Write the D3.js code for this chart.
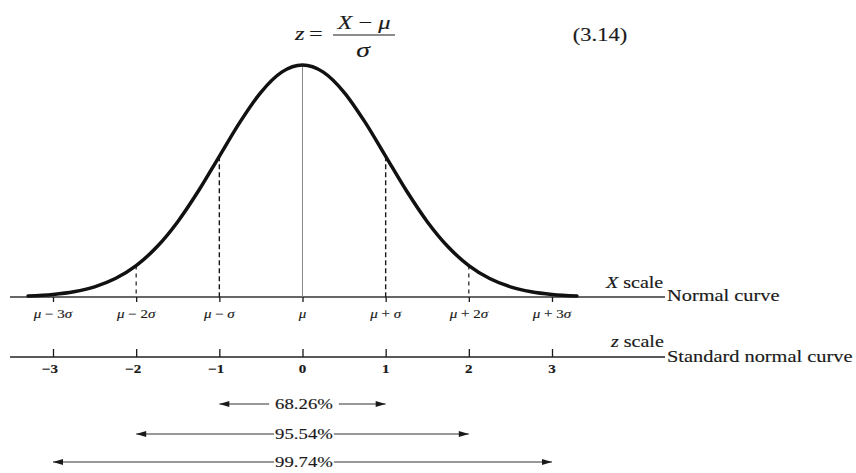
<!DOCTYPE html>
<html>
<head>
<meta charset="utf-8">
<script src="https://cdn.jsdelivr.net/npm/d3@7/dist/d3.min.js"></script>
<style>
  html, body { margin: 0; padding: 0; background: #fff; }
  svg { display: block; }
  text { font-family: "Liberation Serif", "Times New Roman", serif; fill: #1a1a1a; }
</style>
</head>
<body>
<svg id="chart" width="856" height="473"></svg>
<script>
// Standard-score positions along the axes (in units of sigma)
const sigmaSteps = [-3, -2, -1, 0, 1, 2, 3];
// X-scale tick labels, as [mu part, operator, sigma part]
const xLabels = [
  ["μ", "−", "3σ"], ["μ", "−", "2σ"], ["μ", "−", "σ"], ["μ", "", ""],
  ["μ", "+", "σ"], ["μ", "+", "2σ"], ["μ", "+", "3σ"]
];
// z-scale tick labels
const zLabels = ["−3", "−2", "−1", "0", "1", "2", "3"];
// Sampled curve: z position and relative height of the bell (peak = 1)
const curveZ = [-3.3, -3, -2.75, -2.5, -2.25, -2, -1.75, -1.5, -1.25, -1, -0.75, -0.5, -0.25, 0,
                0.25, 0.5, 0.75, 1, 1.25, 1.5, 1.75, 2, 2.25, 2.5, 2.75, 3, 3.3];
const curveH = [0.0043, 0.0111, 0.0228, 0.0439, 0.0796, 0.1353, 0.2163, 0.3247, 0.4578, 0.6065, 0.7548, 0.8825, 0.9692, 1,
                0.9692, 0.8825, 0.7548, 0.6065, 0.4578, 0.3247, 0.2163, 0.1353, 0.0796, 0.0439, 0.0228, 0.0111, 0.0043];
// Area within k standard deviations of the mean
const rangeK = [1, 2, 3];
const rangePct = ["68.26%", "95.54%", "99.74%"];

const svg = d3.select("#chart");
const STRETCH = 1.25;   // wide-set type
const ink = "#1a1a1a";

const x = d3.scaleLinear().domain([-3, 3]).range([53, 552]);
const y = d3.scaleLinear().domain([0, 1]).range([297, 65]);

const axisX0 = 10, axisX1 = 665;
const xAxisY = y(0);
const zAxisY = 357;

function stretchedText(g, px, py, size, anchor) {
  return g.append("text")
    .attr("transform", `translate(${px},${py}) scale(${STRETCH},1)`)
    .attr("font-size", size)
    .attr("text-anchor", anchor || "start")
    .attr("stroke", ink).attr("stroke-width", 0.15);
}

// ---- equation z = (X − μ)/σ and its number
const eq = svg.append("g");
stretchedText(eq, 295, 40, 19.5).append("tspan").attr("font-style", "italic").text("z");
stretchedText(eq, 309, 40, 19.5).text("=");
const num = stretchedText(eq, 364, 29, 19.5, "middle");
num.append("tspan").attr("font-style", "italic").text("X");
num.append("tspan").text(" − ");
num.append("tspan").attr("font-style", "italic").text("μ");
eq.append("line").attr("x1", 333).attr("x2", 395).attr("y1", 35).attr("y2", 35)
  .attr("stroke", ink).attr("stroke-width", 1.2);
stretchedText(eq, 363, 57, 22, "middle").attr("font-style", "italic").text("σ");
stretchedText(eq, 600, 41, 18, "middle").text("(3.14)");

// ---- X scale axis
svg.append("line").attr("x1", axisX0).attr("x2", axisX1)
  .attr("y1", xAxisY).attr("y2", xAxisY)
  .attr("stroke", "#333").attr("stroke-width", 1.3);

const xAxis = d3.axisBottom(x).tickValues(sigmaSteps).tickSize(5).tickFormat("");
const gx = svg.append("g").attr("transform", `translate(0,${xAxisY})`).call(xAxis);
gx.select(".domain").remove();
gx.selectAll(".tick line").attr("stroke", ink).attr("stroke-width", 1.3);

// verticals from the curve down to the axis
const hAt = z => curveH[curveZ.indexOf(z)];
svg.append("line")
  .attr("x1", x(0)).attr("x2", x(0)).attr("y1", y(1)).attr("y2", xAxisY)
  .attr("stroke", "#888").attr("stroke-width", 1);
svg.selectAll("line.drop")
  .data(sigmaSteps.filter(d => d !== 0 && Math.abs(d) < 3))
  .join("line").attr("class", "drop")
  .attr("x1", d => x(d)).attr("x2", d => x(d))
  .attr("y1", d => y(hAt(d))).attr("y2", xAxisY)
  .attr("stroke", ink).attr("stroke-width", d => Math.abs(d) === 1 ? 1.4 : 1.2)
  .attr("stroke-dasharray", d => Math.abs(d) === 1 ? "5,3" : "4,4");

// the normal curve
const line = d3.line().x(d => x(d[0])).y(d => y(d[1])).curve(d3.curveMonotoneX);
svg.append("path")
  .datum(d3.zip(curveZ, curveH))
  .attr("d", line)
  .attr("fill", "none").attr("stroke", "#111").attr("stroke-width", 3.5)
  .attr("stroke-linecap", "round");

// X tick labels
const gxl = svg.append("g");
sigmaSteps.forEach((d, i) => {
  const [m, op, s] = xLabels[i];
  const t = stretchedText(gxl, x(d), 318, 12, "middle");
  t.append("tspan").attr("font-style", "italic").text(m);
  if (op) {
    t.append("tspan").text(" " + op + " ");
    const digits = s.replace("σ", "");
    if (digits) t.append("tspan").text(digits);
    t.append("tspan").attr("font-style", "italic").text("σ");
  }
});

const xs = stretchedText(svg, 606, 288, 16);
xs.append("tspan").attr("font-style", "italic").text("X");
xs.append("tspan").text(" scale");
stretchedText(svg, 667, 301, 16.3).text("Normal curve");

// ---- z scale axis
svg.append("line").attr("x1", axisX0).attr("x2", axisX1)
  .attr("y1", zAxisY).attr("y2", zAxisY)
  .attr("stroke", "#222").attr("stroke-width", 1.5);
const zAxis = d3.axisTop(x).tickValues(sigmaSteps).tickSize(8).tickFormat("");
const gz = svg.append("g").attr("transform", `translate(0,${zAxisY})`).call(zAxis);
gz.select(".domain").remove();
gz.selectAll(".tick line").attr("stroke", ink).attr("stroke-width", 1.3);

const gzl = svg.append("g");
sigmaSteps.forEach((d, i) => {
  stretchedText(gzl, x(d) + (d < 0 ? -3 : 0), 373, 12, "middle")
    .attr("font-weight", "bold").text(zLabels[i]);
});

const zs = stretchedText(svg, 611, 347, 16);
zs.append("tspan").attr("font-style", "italic").text("z");
zs.append("tspan").text(" scale");
stretchedText(svg, 667, 362, 16.3).text("Standard normal curve");

// ---- percentage ranges with arrows
svg.append("defs").append("marker")
  .attr("id", "head").attr("viewBox", "0 0 10 6")
  .attr("refX", 10).attr("refY", 3)
  .attr("markerWidth", 11).attr("markerHeight", 6)
  .attr("markerUnits", "userSpaceOnUse")
  .attr("orient", "auto-start-reverse")
  .append("path").attr("d", "M0,0 L10,3 L0,6 Z").attr("fill", ink);

const rowY = d3.scaleOrdinal().domain(rangeK).range([404, 434, 462]);
const labelCx = 304;
rangeK.forEach((k, i) => {
  const yy = rowY(k);
  const t = stretchedText(svg, labelCx, yy + 5, 15, "middle").text(rangePct[i]);
  const half = t.node().getComputedTextLength() * STRETCH / 2;
  const gap = k === 1 ? 6 : 1;
  svg.append("line")
    .attr("x1", labelCx - half - gap).attr("x2", x(-k))
    .attr("y1", yy).attr("y2", yy)
    .attr("stroke", "#333").attr("stroke-width", 1.1)
    .attr("marker-end", "url(#head)");
  svg.append("line")
    .attr("x1", labelCx + half + gap).attr("x2", x(k))
    .attr("y1", yy).attr("y2", yy)
    .attr("stroke", "#333").attr("stroke-width", 1.1)
    .attr("marker-end", "url(#head)");
});
</script>
</body>
</html>
